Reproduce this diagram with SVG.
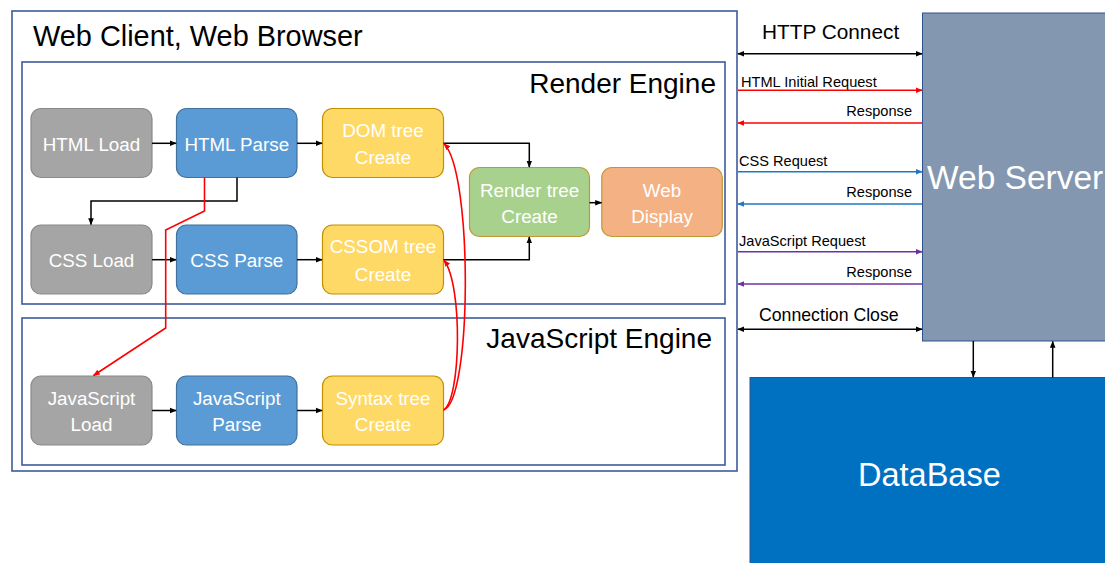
<svg xmlns="http://www.w3.org/2000/svg" width="1105" height="563" viewBox="0 0 1105 563">
  <style>
    text { font-family: "Liberation Sans", Arial, sans-serif; }
    .frame { fill: #ffffff; stroke: #3B5C9C; stroke-width: 1.6; }
    .node { stroke-width: 1.2; }
    .gray { fill: #A5A5A5; stroke: #8A8A8A; }
    .blue { fill: #5B9BD5; stroke: #41719C; }
    .gold { fill: #FFD966; stroke: #BF9000; }
    .green { fill: #A9D18E; stroke: #BF9A30; }
    .orange { fill: #F4B183; stroke: #BF9A30; }
    .ntext { fill: #ffffff; font-size: 18.8px; text-anchor: middle; }
    .big { fill: #000000; font-size: 28px; }
    .lbl { fill: #000000; font-size: 14.6px; }
    .conn { fill: none; stroke: #000000; stroke-width: 1.5; }
    .red { fill: none; stroke: #FF0000; stroke-width: 1.6; }
    .cssl { fill: none; stroke: #1F78C8; stroke-width: 1.6; }
    .jsl { fill: none; stroke: #7030A0; stroke-width: 1.6; }
  </style>
  <defs>
    <marker id="ah-black" viewBox="0 0 10 10" refX="9" refY="5" markerWidth="7" markerHeight="7" markerUnits="userSpaceOnUse" orient="auto-start-reverse">
      <path d="M0,1 L10,5 L0,9 Z" fill="#000000"/>
    </marker>
    <marker id="ah-red" viewBox="0 0 10 10" refX="9" refY="5" markerWidth="7" markerHeight="7" markerUnits="userSpaceOnUse" orient="auto-start-reverse">
      <path d="M0,1 L10,5 L0,9 Z" fill="#FF0000"/>
    </marker>
    <marker id="ah-blue" viewBox="0 0 10 10" refX="9" refY="5" markerWidth="7" markerHeight="7" markerUnits="userSpaceOnUse" orient="auto-start-reverse">
      <path d="M0,1 L10,5 L0,9 Z" fill="#1F78C8"/>
    </marker>
    <marker id="ah-purple" viewBox="0 0 10 10" refX="9" refY="5" markerWidth="7" markerHeight="7" markerUnits="userSpaceOnUse" orient="auto-start-reverse">
      <path d="M0,1 L10,5 L0,9 Z" fill="#7030A0"/>
    </marker>
  </defs>

  <rect width="1105" height="563" fill="#ffffff"/>

  <!-- client containers -->
  <g id="web-client">
    <rect class="frame" x="12" y="11" width="725" height="460"/>
    <text class="big" x="33" y="46" font-size="28.9px" style="font-size:28.9px">Web Client, Web Browser</text>
  </g>
  <g id="render-engine">
    <rect class="frame" x="22" y="62" width="703" height="242"/>
    <text class="big" x="716" y="93" text-anchor="end">Render Engine</text>
  </g>
  <g id="javascript-engine">
    <rect class="frame" x="22" y="318" width="703" height="147"/>
    <text class="big" x="712" y="348" text-anchor="end">JavaScript Engine</text>
  </g>

  <!-- server side -->
  <g id="web-server">
    <rect x="922.5" y="13" width="190" height="328" fill="#8497B0" stroke="#2F528F" stroke-width="1"/>
    <text x="927" y="189" fill="#ffffff" font-size="33.5px">Web Server</text>
  </g>
  <g id="database">
    <rect x="750" y="377.5" width="360" height="190" fill="#0070C0" stroke="#2F528F" stroke-width="1"/>
    <text x="858" y="486" fill="#ffffff" font-size="32.5px">DataBase</text>
  </g>

  <!-- processing nodes -->
  <g id="html-load">
    <rect class="node gray" x="31" y="108.5" width="121" height="69" rx="10"/>
    <text class="ntext" x="91.5" y="150.5">HTML Load</text>
  </g>
  <g id="html-parse">
    <rect class="node blue" x="176.5" y="108.5" width="120.5" height="69" rx="10"/>
    <text class="ntext" x="236.8" y="150.5">HTML Parse</text>
  </g>
  <g id="dom-tree">
    <rect class="node gold" x="322.5" y="108.5" width="121" height="69" rx="10"/>
    <text class="ntext" x="383" y="136.5">DOM tree</text>
    <text class="ntext" x="383" y="164">Create</text>
  </g>
  <g id="css-load">
    <rect class="node gray" x="31" y="225" width="121" height="69" rx="10"/>
    <text class="ntext" x="91.5" y="267">CSS Load</text>
  </g>
  <g id="css-parse">
    <rect class="node blue" x="176.5" y="225" width="120.5" height="69" rx="10"/>
    <text class="ntext" x="236.8" y="267">CSS Parse</text>
  </g>
  <g id="cssom-tree">
    <rect class="node gold" x="322.5" y="225" width="121" height="69" rx="10"/>
    <text class="ntext" x="383" y="253">CSSOM tree</text>
    <text class="ntext" x="383" y="280.5">Create</text>
  </g>
  <g id="render-tree">
    <rect class="node green" x="469.5" y="167.5" width="120" height="69" rx="10"/>
    <text class="ntext" x="529.5" y="196.5">Render tree</text>
    <text class="ntext" x="529.5" y="222.7">Create</text>
  </g>
  <g id="web-display">
    <rect class="node orange" x="601.8" y="167.5" width="120.5" height="69" rx="10"/>
    <text class="ntext" x="662" y="196.5">Web</text>
    <text class="ntext" x="662" y="222.7">Display</text>
  </g>
  <g id="js-load">
    <rect class="node gray" x="31" y="376" width="121" height="69" rx="10"/>
    <text class="ntext" x="91.5" y="405">JavaScript</text>
    <text class="ntext" x="91.5" y="431">Load</text>
  </g>
  <g id="js-parse">
    <rect class="node blue" x="176.5" y="376" width="120.5" height="69" rx="10"/>
    <text class="ntext" x="236.8" y="405">JavaScript</text>
    <text class="ntext" x="236.8" y="431">Parse</text>
  </g>
  <g id="syntax-tree">
    <rect class="node gold" x="322.5" y="376" width="121" height="69" rx="10"/>
    <text class="ntext" x="383" y="405">Syntax tree</text>
    <text class="ntext" x="383" y="431">Create</text>
  </g>

  <!-- protocol labels -->
  <g id="protocol-labels">
    <text x="762" y="39" font-size="20.8px">HTTP Connect</text>
    <text class="lbl" x="741" y="87">HTML Initial Request</text>
    <text class="lbl" x="912" y="116" text-anchor="end">Response</text>
    <text class="lbl" x="739" y="166">CSS Request</text>
    <text class="lbl" x="912" y="197" text-anchor="end">Response</text>
    <text class="lbl" x="739" y="246">JavaScript Request</text>
    <text class="lbl" x="912" y="277" text-anchor="end">Response</text>
    <text x="759" y="321" font-size="17.7px">Connection Close</text>
  </g>

  <!-- connectors -->
  <g id="connectors">
    <line class="conn" x1="152" y1="143.3" x2="176" y2="143.3" marker-end="url(#ah-black)"/>
    <line class="conn" x1="297" y1="143.3" x2="322" y2="143.3" marker-end="url(#ah-black)"/>
    <polyline class="conn" points="237,177.5 237,201 91,201 91,224.5" marker-end="url(#ah-black)"/>
    <line class="conn" x1="152" y1="259.7" x2="176" y2="259.7" marker-end="url(#ah-black)"/>
    <line class="conn" x1="297" y1="259.7" x2="322" y2="259.7" marker-end="url(#ah-black)"/>
    <polyline class="conn" points="443.5,143.3 529.3,143.3 529.3,167" marker-end="url(#ah-black)"/>
    <polyline class="conn" points="443.5,259.7 529.3,259.7 529.3,237" marker-end="url(#ah-black)"/>
    <line class="conn" x1="589.5" y1="202.7" x2="601.5" y2="202.7" marker-end="url(#ah-black)"/>
    <line class="conn" x1="152" y1="410.5" x2="176" y2="410.5" marker-end="url(#ah-black)"/>
    <line class="conn" x1="297" y1="410.5" x2="322" y2="410.5" marker-end="url(#ah-black)"/>

    <!-- script discovery and blocking paths -->
    <polyline class="red" points="204.5,177.5 204.5,211 165.7,230 165.7,328 93.5,375.5" marker-end="url(#ah-red)"/>
    <path class="red" d="M443.5,410 C472,402 473,172 444,143.8" marker-end="url(#ah-red)"/>
    <path class="red" d="M443.5,410 C461,400 463,285 444,260.2" marker-end="url(#ah-red)"/>

    <!-- client / server exchange -->
    <line class="conn" x1="738" y1="53.7" x2="922" y2="53.7" marker-start="url(#ah-black)" marker-end="url(#ah-black)"/>
    <line class="red" x1="738" y1="90.3" x2="922" y2="90.3" marker-end="url(#ah-red)"/>
    <line class="red" x1="922" y1="123" x2="738" y2="123" marker-end="url(#ah-red)"/>
    <line class="cssl" x1="738" y1="171.7" x2="922" y2="171.7" marker-end="url(#ah-blue)"/>
    <line class="cssl" x1="922" y1="204" x2="738" y2="204" marker-end="url(#ah-blue)"/>
    <line class="jsl" x1="738" y1="251.7" x2="922" y2="251.7" marker-end="url(#ah-purple)"/>
    <line class="jsl" x1="922" y1="284" x2="738" y2="284" marker-end="url(#ah-purple)"/>
    <line class="conn" x1="738" y1="329.3" x2="922" y2="329.3" marker-start="url(#ah-black)" marker-end="url(#ah-black)"/>

    <!-- server / database -->
    <line class="conn" x1="973.3" y1="341" x2="973.3" y2="377" marker-end="url(#ah-black)"/>
    <line class="conn" x1="1052.7" y1="377.5" x2="1052.7" y2="341.5" marker-end="url(#ah-black)"/>
  </g>
</svg>
